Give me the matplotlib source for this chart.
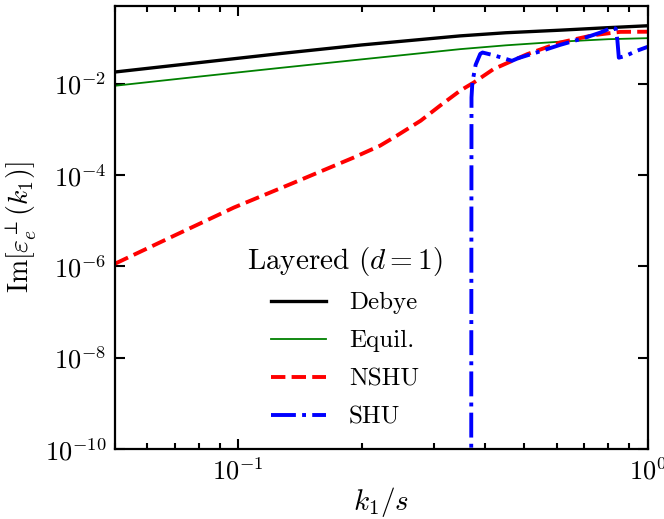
import matplotlib
matplotlib.use("Agg")
import matplotlib.pyplot as plt
from matplotlib.ticker import LogLocator, NullLocator, LogFormatterSciNotation

plt.rcParams["font.family"] = "serif"
plt.rcParams["font.serif"] = ["cmr10"]
plt.rcParams["mathtext.fontset"] = "cm"
plt.rcParams["axes.formatter.use_mathtext"] = True
plt.rcParams["axes.unicode_minus"] = False

# Im[eps_e^perp(k1)] for the layered profile (d = 1)
k_debye = [0.05, 0.08, 0.127, 0.2, 0.348, 0.45, 0.611, 0.8, 1.0]
im_debye = [0.018, 0.0288, 0.0457, 0.0703, 0.111, 0.130, 0.148, 0.168, 0.185]

k_equil = [0.05, 0.08, 0.127, 0.2, 0.348, 0.45, 0.611, 0.8, 1.0]
im_equil = [0.009, 0.01425, 0.0222, 0.034, 0.0569, 0.069, 0.083, 0.094, 0.099]

k_nshu = [0.05, 0.07, 0.0976, 0.135, 0.191, 0.222, 0.244, 0.279, 0.311,
          0.348, 0.376, 0.42, 0.508, 0.611, 0.736, 0.857, 1.0]
im_nshu = [1.15e-6, 4.8e-6, 1.95e-5, 6.5e-5, 2.4e-4, 4.4e-4, 7.3e-4,
           1.55e-3, 3.3e-3, 7.0e-3, 1.06e-2, 2.08e-2, 4.43e-2, 7.95e-2,
           0.115, 0.136, 0.137]

k_shu = [0.3705, 0.3712, 0.373, 0.38, 0.39, 0.395, 0.42, 0.445, 0.466,
         0.483, 0.55, 0.611, 0.70, 0.766, 0.80, 0.82, 0.835, 0.843, 0.85,
         0.884, 0.94, 1.0]
im_shu = [1e-12, 5e-3, 1.05e-2, 2.6e-2, 4.5e-2, 4.8e-2, 4.2e-2, 3.6e-2,
          3.16e-2, 3.62e-2, 5.2e-2, 7.06e-2, 0.100, 0.131, 0.155, 0.170,
          0.160, 0.090, 0.037, 0.0407, 0.0523, 0.064]

fig = plt.figure(figsize=(6.64, 5.19), dpi=100)
ax = fig.add_axes([0.1732, 0.1343, 0.8023, 0.8541])

ax.loglog(k_debye, im_debye, color="black", lw=2.4, label="Debye")
ax.loglog(k_equil, im_equil, color="green", lw=1.3, label="Equil.")
ax.loglog(k_nshu, im_nshu, color="red", lw=2.8, ls="--", label="NSHU")
ax.loglog(k_shu, im_shu, color="blue", lw=2.8, ls="-.", label="SHU")

ax.set_xlim(0.05, 1.0)
ax.set_ylim(1e-10, 0.5)

ax.set_yticks([1e-10, 1e-8, 1e-6, 1e-4, 1e-2])
ax.yaxis.set_major_formatter(LogFormatterSciNotation())
ax.yaxis.set_minor_locator(NullLocator())
ax.xaxis.set_major_locator(LogLocator(base=10))
ax.xaxis.set_minor_locator(LogLocator(base=10, subs=range(2, 10)))

ax.tick_params(which="both", direction="in", top=True, right=True,
               width=1.5, labelsize=19, pad=6)
ax.tick_params(which="major", length=7)
ax.tick_params(which="minor", length=4)
for s in ax.spines.values():
    s.set_linewidth(1.6)

ax.set_xlabel(r"$k_1/s$", fontsize=21, labelpad=0)
ax.set_ylabel(r"$\mathrm{Im}[\varepsilon_e^{\perp}(k_1)]$", fontsize=20,
              labelpad=4)

leg = ax.legend(title=r"Layered $(d=1)$", loc="center",
                bbox_to_anchor=(0.432, 0.254), frameon=False, fontsize=18,
                title_fontsize=21, handlelength=2.2, labelspacing=0.62,
                handletextpad=0.9)
leg._legend_box.sep = 10

fig.savefig("out.png", dpi=100)
